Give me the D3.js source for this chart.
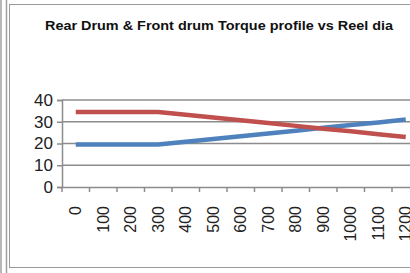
<!DOCTYPE html>
<html><head><meta charset="utf-8">
<script src="https://cdn.jsdelivr.net/npm/d3@7"></script>
<style>html,body{margin:0;padding:0;background:#fff;overflow:hidden}</style>
</head><body>
<script>
const categories = ["0","100","200","300","400","500","600","700","800","900","1000","1100","1200"];
const rearDrum = [34.5,34.5,34.5,34.5,33.2,32.0,30.7,29.4,28.1,26.8,25.6,24.3,23.0];
const frontDrum = [19.5,19.5,19.5,19.5,20.8,22.1,23.3,24.6,25.9,27.2,28.5,29.7,31.0];
const yTicks = [0,10,20,30,40];
const title = "Rear Drum & Front drum Torque profile vs Reel dia";

const W = 410, H = 273;
const svg = d3.select("body").append("svg").attr("width", W).attr("height", H);

// outer frame lines
svg.append("line").attr("x1",1).attr("x2",1).attr("y1",0).attr("y2",H).attr("stroke","#a0a0a0").attr("stroke-width",1.5);
svg.append("line").attr("x1",6.5).attr("x2",6.5).attr("y1",0).attr("y2",H).attr("stroke","#a0a0a0").attr("stroke-width",1.5);
svg.append("rect").attr("x",9.5).attr("y",4.5).attr("width",W).attr("height",263)
  .attr("fill","#fff").attr("stroke","#9a9a9a").attr("stroke-width",1);

svg.append("text").attr("x",45).attr("y",30)
  .attr("font-family","Liberation Sans, Arial, sans-serif").attr("font-weight","bold")
  .attr("font-size",13.5).attr("fill","#111")
  .attr("textLength",348).attr("lengthAdjust","spacingAndGlyphs").text(title);

const x0 = 62, step = 27.5;
const x = d3.scaleBand().domain(categories).range([x0, x0 + step*categories.length]).paddingInner(0).paddingOuter(0);
const y = d3.scaleLinear().domain([0,40]).range([187,100]);

// gridlines
svg.append("g").selectAll("line").data(yTicks.filter(d=>d>0)).join("line")
  .attr("x1",x0).attr("x2",W).attr("y1",d=>y(d)).attr("y2",d=>y(d))
  .attr("stroke","#8c8c8c").attr("stroke-width",1.5);

// y axis
const yAxis = svg.append("g").attr("transform",`translate(${x0},0)`)
  .call(d3.axisLeft(y).tickValues(yTicks).tickSize(5).tickPadding(4));
yAxis.select(".domain").attr("stroke","#8c8c8c").attr("stroke-width",1.5);
yAxis.selectAll(".tick line").attr("stroke","#8c8c8c").attr("stroke-width",1.5);
yAxis.selectAll("text").attr("font-family","Liberation Sans, Arial, sans-serif").attr("font-size",17).attr("fill","#222");

// x axis
const xAxis = svg.append("g").attr("transform",`translate(0,${y(0)})`)
  .call(d3.axisBottom(x).tickSize(0).tickPadding(0));
xAxis.select(".domain").attr("stroke","#8c8c8c").attr("stroke-width",1.5);
xAxis.selectAll(".tick line").remove();
xAxis.selectAll(".tick text")
  .attr("font-family","Liberation Sans, Arial, sans-serif").attr("font-size",16).attr("fill","#222")
  .attr("text-anchor","end").attr("dy","0.35em")
  .attr("transform","translate(0,19) rotate(-90)").attr("x",0).attr("y",0);
// ticks between categories
svg.append("g").selectAll("line").data(categories).join("line")
  .attr("x1",d=>x(d)).attr("x2",d=>x(d)).attr("y1",y(0)).attr("y2",y(0)+5)
  .attr("stroke","#8c8c8c").attr("stroke-width",1.5);

const line = d3.line().x((d,i)=>x(categories[i])+x.bandwidth()/2).y(d=>y(d));
svg.append("path").datum(frontDrum).attr("d",line).attr("fill","none").attr("stroke","#4F81BD").attr("stroke-width",4.5);
svg.append("path").datum(rearDrum).attr("d",line).attr("fill","none").attr("stroke","#C0504D").attr("stroke-width",4.5);
</script>
</body></html>
